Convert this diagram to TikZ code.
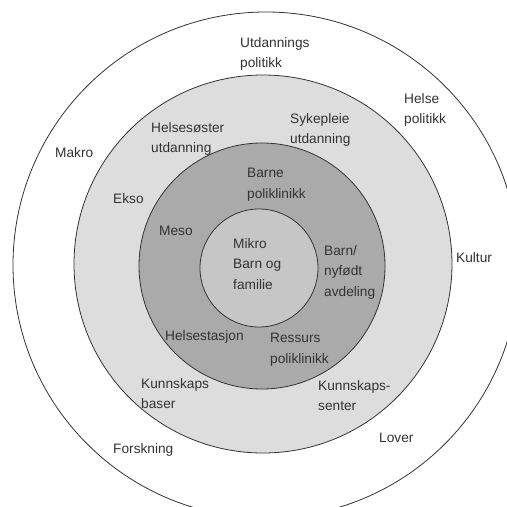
\documentclass[tikz,border=0pt]{standalone}
\usepackage{fontspec}
\setmainfont{Liberation Sans}
\definecolor{ekso gray}{HTML}{DDDDDD}
\definecolor{meso gray}{HTML}{AAAAAA}
\definecolor{mikro gray}{HTML}{C6C6C6}
\definecolor{ink}{HTML}{333333}
\begin{document}
\begin{tikzpicture}[
		x=1pt, y=-1pt,
		ring node/.style={circle, draw=ink, line width=0.8pt, inner sep=0pt},
		label node/.style={anchor=north west, inner sep=0pt, align=left, text=ink,
			font=\fontsize{13.7}{20.5}\selectfont}
	]
		\useasboundingbox (0,0) rectangle (507,507);
		\clip (0,0) rectangle (507,507);
		\fill[white] (0,0) rectangle (507,507);

		% the four levels
		\node[ring node, fill=white, minimum size=506pt] (makro) at (266,265) {};
		\node[ring node, fill=ekso gray, minimum size=378pt] (ekso) at (263,264) {};
		\node[ring node, fill=meso gray, minimum size=246pt] (meso) at (262,266) {};
		\node[ring node, fill=mikro gray, minimum size=118pt] (mikro) at (259,268) {};

		% makro
		\node[label node] (lmakro) at (55,147) {Makro};
		\node[label node] (lutdpol) at (240,37) {Utdannings\\politikk};
		\node[label node] (lhelsepol) at (404,93) {Helse\\politikk};
		\node[label node] (lkultur) at (456,252) {Kultur};
		\node[label node] (llover) at (379,433) {Lover};
		\node[label node] (lforsk) at (113,443) {Forskning};

		% ekso
		\node[label node] (lekso) at (113,193) {Ekso};
		\node[label node] (lhelsesos) at (151,122) {Helsesøster\\utdanning};
		\node[label node] (lsykepl) at (290,113) {Sykepleie\\utdanning};
		\node[label node] (lbaser) at (141,378) {Kunnskaps\\baser};
		\node[label node] (lsenter) at (318,380) {Kunnskaps-\\senter};

		% meso
		\node[label node] (lmeso) at (159,226) {Meso};
		\node[label node] (lbarnepol) at (247,168) {Barne\\poliklinikk};
		\node[label node] (lnyfodt) at (324,245) {Barn/\\nyfødt\\avdeling};
		\node[label node] (lstasjon) at (165,330) {Helsestasjon};
		\node[label node] (lressurs) at (270,333) {Ressurs\\poliklinikk};

		% mikro
		\node[label node] (lmikro) at (233,238) {Mikro\\Barn og\\familie};
	\end{tikzpicture}
\end{document}
